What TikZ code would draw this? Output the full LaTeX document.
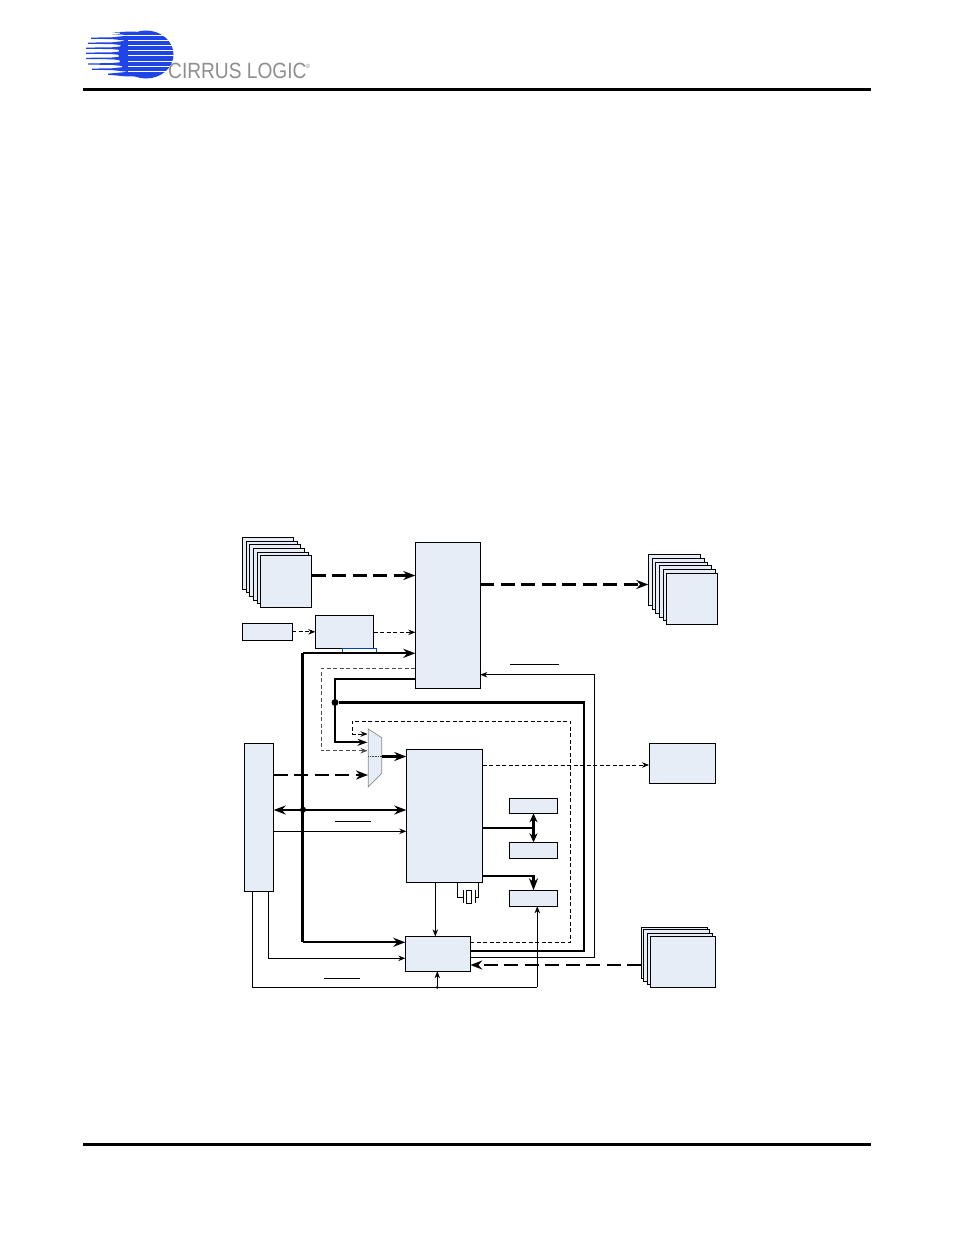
\documentclass[tikz,border=0pt]{standalone}
\usepackage{fontspec}
\setmainfont{Liberation Sans}
\newfontfamily\logofont[FakeStretch=0.87]{Liberation Sans}
\usetikzlibrary{arrows.meta}
\definecolor{fillb}{HTML}{E6EDF7}
\definecolor{logob}{HTML}{1F45E6}
\definecolor{logog}{HTML}{8C8F8C}
\tikzset{
  x=1pt,y=-1pt,
  blk/.style={draw=black,fill=fillb,line width=0.9pt,inner sep=0pt,outer sep=0pt},
  thin line/.style={draw=black,line width=0.8pt},
  big/.style={draw=black,line width=2.2pt,-{Stealth[length=12pt,width=9pt]}},
  bigboth/.style={draw=black,line width=2.2pt,{Stealth[length=12pt,width=9pt]}-{Stealth[length=12pt,width=9pt]}},
  bigplain/.style={draw=black,line width=2.2pt},
  bigdash/.style={big,dash pattern=on 14pt off 6.5pt},
  small/.style={thin line,-{Stealth[length=7pt,width=5.5pt]}},
  smalldash/.style={small,dash pattern=on 4pt off 2.5pt},
  dot/.style={circle,fill=black,inner sep=0pt,minimum size=#1},
}
\newcommand\bx[5]{%
  \pgfmathsetmacro\bw{#4-#2}\pgfmathsetmacro\bh{#5-#3}%
  \pgfmathsetmacro\cx{(#2+#4)/2}\pgfmathsetmacro\cy{(#3+#5)/2}%
  \node[blk,minimum width=\bw pt,minimum height=\bh pt] (#1) at (\cx,\cy) {};}
\begin{document}
\begin{tikzpicture}
\useasboundingbox (0,0) rectangle (954,1235);
\fill[white] (0,0) rectangle (954,1235);

% logo
\fill[logob] (146,54.5) ellipse [x radius=27.5pt,y radius=24pt];
\foreach \yy/\xs/\hh in {33.3/120/1.6,38.2/91/2.4,43.2/88/2.4,48.2/86/2.4,53.2/86/2.4,58.4/86/2.4,64/88/2.4,69.2/92/2.4,74.2/108/2.2}{
  \fill[logob] (\xs,\yy-0.6) -- (\xs,\yy+0.6) -- (112,\yy+0.9) -- (126,\yy+\hh) -- (136,\yy+\hh) -- (136,\yy-\hh) -- (126,\yy-\hh) -- (112,\yy-0.9) -- cycle;
}
\foreach \yy in {35.7,40.7,45.7,50.7,55.7,61,66.7,71.7}{
  \draw[white,line width=0.8pt] (128,\yy) -- (176,\yy);
}
\node[anchor=base west,inner sep=0pt,font=\logofont\fontsize{22}{22}\selectfont,text=logog] (logotxt) at (168,78.5) {CIRRUS LOGIC};
\node[anchor=base west,inner sep=0pt,font=\fontsize{6}{6}\selectfont,text=logog] (logor) at (305.5,68) {®};

% page rules
\coordinate (hl) at (83,89); \coordinate (hr) at (871,89);
\coordinate (fl) at (83,1144); \coordinate (fr) at (871,1144);
\draw[line width=3pt] (hl) -- (hr);
\draw[line width=3pt] (fl) -- (fr);

% left stack
\bx{la}{242.5}{537.5}{293.5}{589}
\bx{lb}{246.3}{541}{297.3}{592.5}
\bx{lc}{249.7}{544.5}{300.7}{596}
\bx{ld}{253.3}{548.5}{304.3}{600}
\bx{le}{257}{552}{308}{603.5}
\bx{lf}{260.3}{555.5}{311.5}{607.3}
% right stack
\bx{ra}{648.3}{554.3}{700.5}{605.7}
\bx{rb}{652.3}{558}{704.5}{609.5}
\bx{rc}{655.3}{562}{707.5}{613.3}
\bx{rd}{659.3}{565.7}{711.5}{617}
\bx{re}{663.3}{569.3}{715}{620.7}
\bx{rf}{666.3}{573.3}{717.7}{624.3}
% bottom stack
\bx{ba}{641.3}{927.7}{707.7}{978.3}
\bx{bb}{643.3}{929.7}{709.7}{981.3}
\bx{bc}{647.3}{933.3}{712.7}{984.3}
\bx{bd}{650.3}{936.3}{715.3}{987.3}
% main blocks
\bx{dsp}{415.3}{542.7}{480.3}{688.3}
\bx{sm}{242.3}{623.3}{292.3}{640.3}
\bx{mid}{315.3}{615.3}{373.7}{648.3}
\bx{cpu}{406.3}{749.3}{482.5}{882.3}
\bx{tall}{244.3}{743}{273.7}{891.3}
\bx{low}{405.3}{936.3}{470.3}{971.3}
\bx{out}{649}{743.3}{715.5}{783.3}
\bx{s1}{509.3}{798.3}{557.7}{813.3}
\bx{s2}{509.3}{842.3}{557.7}{858.3}
\bx{s3}{509.3}{890.3}{557.7}{906.3}

% blue tab under mid
\coordinate (tabl) at (342.7,648.3); \coordinate (tabr) at (376.3,648.3);
\draw[draw=blue!60!cyan!70!black,line width=0.9pt] (tabl) -- (342.7,653.3) (tabl) -- (tabr) -- (376.3,653.3);

% mux
\fill[fillb,draw=black!45,line width=0.7pt] (368.3,729) -- (381.7,737.7) -- (381.7,773.3) -- (368.3,786.7) -- cycle;
\coordinate (muxin) at (367.5,750);
\coordinate (muxout) at (381.7,756.5);
\draw[line width=1pt,black!75,dash pattern=on 1pt off 0.6pt] (368.3,756.7) -- (381.7,756.7);

% top arrows
\draw[bigdash] (lf.east |- 0,575.5) -- (dsp.west |- 0,575.5);
\draw[bigdash] (dsp.east |- 0,584.5) -- (ra.west |- 0,584.5);
\draw[smalldash] (sm.east) -- (mid.west |- sm.east);
\draw[smalldash] (mid.east |- 0,632.3) -- (dsp.west |- 0,632.3);

% bus from dsp to low
\draw[bigplain] (302.5,653.3) -- (302.5,942.3);
\draw[big] (302.5,653.3) -- (dsp.west |- 0,653.3);
\draw[big] (302.5,942.3) -- (low.west |- 0,942.3);

% dashed to mux
\draw[smalldash,draw=black!70] (dsp.west |- 0,668.3) -| (321,750.7) -- (muxin |- 0,750.7);
\draw[big,line width=2pt,-{Stealth[length=10pt,width=7pt]}] (dsp.west |- 0,679) -| (334.7,742.3) -- (muxin |- 0,742.3);
\node[dot=7pt] (j1) at (335,702.5) {};
\draw[bigplain,line join=miter] (j1) -- (584.3,702.5) -- (584.3,950.7) -- (low.east |- 0,950.7);
% thin feedback
\draw[small] (low.east |- 0,957.3) -- (594.7,957.3) -- (594.7,674.7) -- (dsp.east |- 0,674.7);
% dashed loop
\draw[smalldash] (low.east |- 0,942.3) -- (570.7,942.3) -- (570.7,721) -- (352.3,721) -- (352.3,734) -- (muxin |- 0,734);
% mux output and tall
\draw[big] (muxout) -- (cpu.west |- muxout);
\draw[bigdash] (tall.east |- 0,775) -- (368,775);
\draw[bigboth] (tall.east |- 0,810) -- (cpu.west |- 0,810);
\node[dot=6pt] (j2) at (303,809.7) {};
\draw[small] (tall.east |- 0,831.3) -- (cpu.west |- 0,831.3);

% tall to low
\draw[small] (268.3,891.3) |- (low.west |- 0,958.3);
\node[dot=3pt] (j3) at (437.3,987.3) {};
\draw[thin line] (252.3,891.3) |- (537.3,987.3) coordinate (cor);
\draw[small] (cor) -- (s3.south -| cor);
\draw[small] (j3) -- (low.south -| j3);
% cpu to low
\draw[small] (435.3,882.3) -- (435.3,936.3);
% crystal
\draw[thin line] (457.3,882.3) -- (457.3,897.5) -- (463.3,897.5);
\draw[thin line] (463.3,890) -- (463.3,903);
\draw[thin line,fill=white] (466.5,890) rectangle (471.5,903);
\draw[thin line] (475,890) -- (475,903);
\draw[thin line] (475,897.5) -- (478.5,897.5) -- (478.5,882.3);

% cpu to small boxes
\draw[bigplain] (cpu.east |- 0,828) -- (533.5,828);
\draw[bigboth,{Stealth[length=9pt,width=8pt]}-{Stealth[length=9pt,width=8pt]}] (s1.south) -- (s2.north);
\draw[big,line join=miter] (cpu.east |- 0,876) -| (s3.north);

% to out, from bottom stack
\draw[smalldash] (cpu.east |- 0,765) -- (out.west |- 0,765);
\draw[bigdash] (ba.west |- 0,965) -- (low.east |- 0,965);

% overbars
\coordinate (b1a) at (510,664.5); \coordinate (b1b) at (558.5,664.5);
\coordinate (b2a) at (335,821.3); \coordinate (b2b) at (371,821.3);
\coordinate (b3a) at (324,978.3); \coordinate (b3b) at (360,978.3);
\draw[thin line] (b1a) -- (b1b);
\draw[thin line] (b2a) -- (b2b);
\draw[thin line] (b3a) -- (b3b);
\end{tikzpicture}
\end{document}
